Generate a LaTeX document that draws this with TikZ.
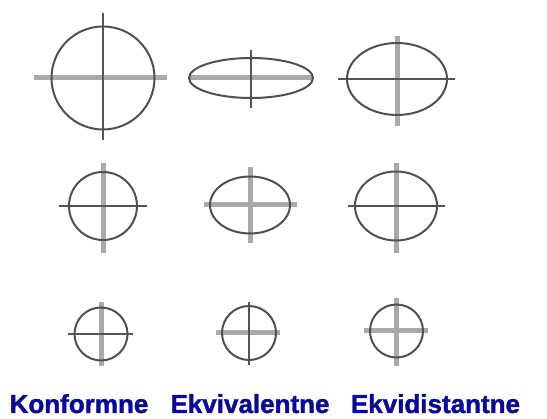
\documentclass[tikz,border=0pt]{standalone}
\usepackage{fontspec}
\setmainfont{Liberation Sans}[BoldFeatures={FakeBold=1.5}]
\definecolor{ringc}{HTML}{505050}
\definecolor{darkax}{HTML}{555555}
\definecolor{grayax}{HTML}{AAAAAA}
\definecolor{labc}{HTML}{0A0A9A}
\begin{document}
\begin{tikzpicture}[x=1pt,y=-1pt,
  ring/.style={draw=ringc,line width=2pt},
  axd/.style={draw=darkax,line width=2.8pt},
  axg/.style={draw=grayax,line width=5pt},
  lab/.style={anchor=base,inner sep=0pt,text depth=0pt,text=labc,font=\fontsize{26}{30}\selectfont\bfseries}]
\useasboundingbox (0,0) rectangle (547,419);
% Row 1
\draw[axg] (34,78) -- (167,78);
\draw[axd] (103,13) -- (103,140);
\draw[ring] (103,78) circle [radius=51.5];
\draw[axg] (189,78) -- (313,78);
\draw[axd] (251,50) -- (251,108);
\draw[ring] (251,78) ellipse [x radius=62,y radius=20];
\draw[axg] (397,36) -- (397,126);
\draw[axd] (338,79) -- (455,79);
\draw[ring] (397,79) ellipse [x radius=50,y radius=36];
% Row 2
\draw[axg] (103,163) -- (103,253);
\draw[axd] (59,206) -- (147,206);
\draw[ring] (103,206) circle [radius=34];
\draw[axg] (250,167) -- (250,243);
\draw[axg] (204,205) -- (297,205);
\draw[ring] (250,205) ellipse [x radius=40,y radius=28.5];
\draw[axg] (396,163) -- (396,253);
\draw[axd] (348,206) -- (445,206);
\draw[ring] (396,206) ellipse [x radius=41,y radius=34.5];
% Row 3
\draw[axg] (101,302) -- (101,366);
\draw[axd] (68,334) -- (133,334);
\draw[ring] (101,334) circle [radius=26.5];
\draw[axg] (216,333) -- (280,333);
\draw[axd] (249,302) -- (249,365);
\draw[ring] (249,333) circle [radius=27];
\draw[axg] (396.5,298) -- (396.5,366);
\draw[axg] (364,331) -- (428,331);
\draw[ring] (396.5,331) circle [radius=26.5];
% Labels
\node[lab] (l1) at (79,413) {Konformne};
\node[lab] (l2) at (250,413) {Ekvivalentne};
\node[lab] (l3) at (435.5,413) {Ekvidistantne};
\end{tikzpicture}
\end{document}
